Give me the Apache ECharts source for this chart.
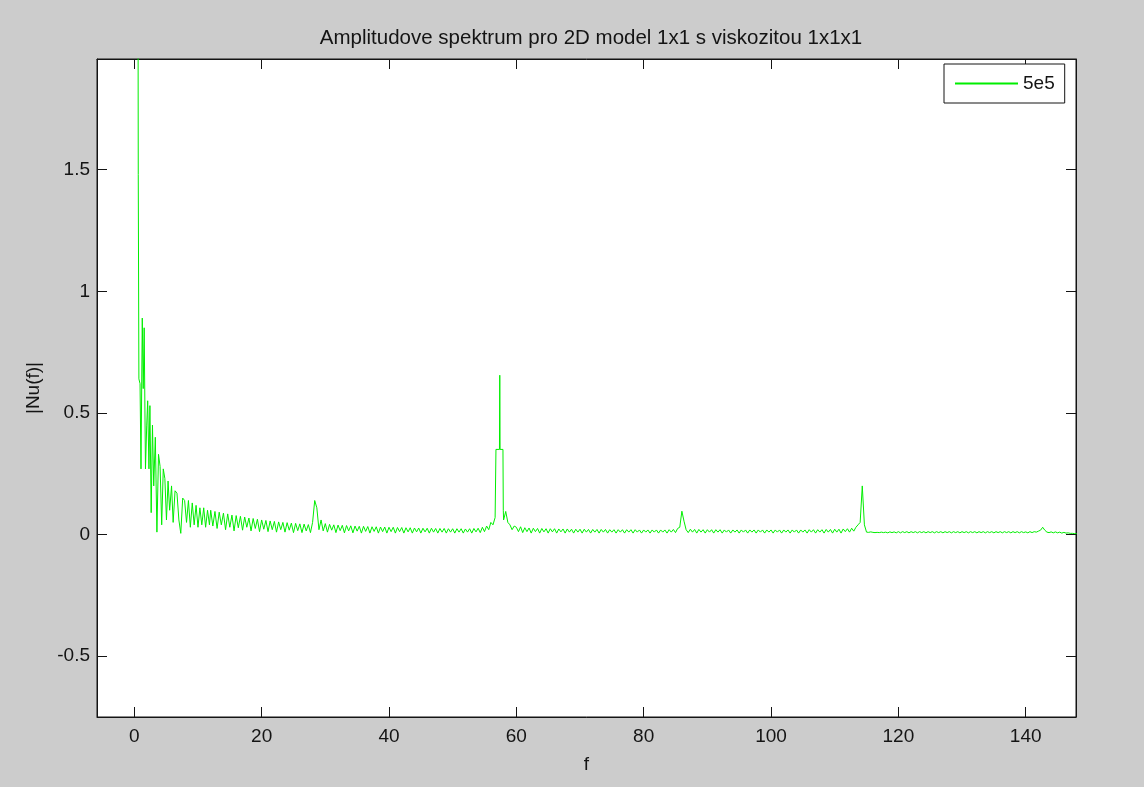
<!DOCTYPE html>
<html><head><meta charset="utf-8">
<script src="https://cdn.jsdelivr.net/npm/echarts@6/dist/echarts.min.js"></script>
<style>html,body{margin:0;padding:0;background:#cccccc;} #c{width:1144px;height:787px;}</style>
</head><body><div id="c"></div>
<script>
const titleText = 'Amplitudove spektrum pro 2D model 1x1 s viskozitou 1x1x1';
const seriesName = '5e5';
const xName = 'f';
const yName = '|Nu(f)|';
const xTicks = [0, 20, 40, 60, 80, 100, 120, 140];
const yTicks = [-0.5, 0, 0.5, 1, 1.5];

// low-frequency part (irregular sampling)
const lowBandF = [0.55,0.62,0.72,0.9,1.05,1.25,1.4,1.55,1.75,1.95,2.1,2.3,2.45,2.65,2.85,3.05,3.3,3.55,3.8,4.05,4.3,4.55,4.8,5.05,5.3,5.55,5.85,6.1,6.4,6.7,7.0,7.3,7.6,7.9,8.2,8.5,8.8,9.1,9.4,9.7,10.0,10.3,10.6,10.9,11.2,11.5,11.8];
const lowBandAmp = [3.0,1.48,0.64,0.62,0.27,0.89,0.6,0.85,0.27,0.45,0.55,0.27,0.53,0.09,0.45,0.2,0.4,0.01,0.33,0.28,0.04,0.27,0.23,0.06,0.22,0.1,0.2,0.05,0.18,0.17,0.06,0.005,0.15,0.14,0.05,0.14,0.03,0.13,0.04,0.12,0.03,0.11,0.04,0.11,0.03,0.10,0.04];

// comb from f = 12 up to 56.67, frequency bins every 1/3
const combAStartF = 12;
const combAStepF = 1 / 3;
const combAAmp = [
0.100,0.035,0.095,0.025,0.092,0.040,
0.088,0.020,0.085,0.030,0.080,0.015,
0.078,0.028,0.075,0.018,0.072,0.030,
0.068,0.015,0.066,0.025,0.063,0.012,
0.060,0.022,0.058,0.012,0.056,0.020,
0.054,0.010,0.052,0.020,0.050,0.010,
0.049,0.018,0.047,0.008,0.046,0.016,
0.044,0.008,0.043,0.015,0.041,0.008,
0.050,0.140,0.110,0.020,0.060,0.015,
0.045,0.010,0.042,0.018,0.040,0.008,
0.039,0.016,0.038,0.007,0.037,0.015,
0.036,0.007,0.035,0.014,0.034,0.006,
0.034,0.013,0.033,0.006,0.032,0.013,
0.032,0.006,0.031,0.012,0.031,0.006,
0.030,0.012,0.030,0.006,0.029,0.012,
0.029,0.006,0.028,0.011,0.028,0.006,
0.027,0.011,0.027,0.006,0.026,0.011,
0.026,0.006,0.026,0.010,0.025,0.006,
0.025,0.010,0.025,0.006,0.024,0.010,
0.024,0.006,0.024,0.010,0.024,0.006,
0.023,0.010,0.024,0.006,0.025,0.011,
0.026,0.008,0.030,0.012,0.035,0.020,
0.050,0.040,0.070
];

// main peak near f = 57.4
const peak57F = [56.75,56.8,57.35,57.4,57.45,57.9,57.95];
const peak57Amp = [0.07,0.35,0.35,0.655,0.35,0.35,0.10];

// comb from f = 58 to the end, frequency bins every 1/3
const combBStartF = 58;
const combBStepF = 1 / 3;
const combBAmp = [
0.060,0.095,0.050,0.040,0.020,0.035,
0.030,0.012,0.032,0.008,0.028,0.012,
0.027,0.006,0.026,0.012,0.025,0.006,
0.025,0.011,0.024,0.006,0.024,0.011,
0.024,0.006,0.023,0.011,0.023,0.006,
0.023,0.010,0.022,0.006,0.022,0.010,
0.022,0.006,0.022,0.010,0.021,0.006,
0.021,0.010,0.021,0.006,0.021,0.010,
0.021,0.006,0.020,0.010,0.020,0.006,
0.020,0.010,0.020,0.006,0.020,0.010,
0.020,0.006,0.020,0.010,0.019,0.006,
0.019,0.010,0.019,0.006,0.019,0.010,
0.019,0.006,0.019,0.010,0.019,0.006,
0.020,0.010,0.021,0.008,0.025,0.030,
0.096,0.055,0.020,0.008,0.022,0.010,
0.021,0.006,0.021,0.010,0.020,0.006,
0.020,0.010,0.020,0.006,0.020,0.010,
0.020,0.006,0.019,0.010,0.019,0.006,
0.019,0.010,0.019,0.006,0.019,0.010,
0.019,0.006,0.019,0.010,0.019,0.006,
0.019,0.010,0.019,0.006,0.019,0.010,
0.019,0.006,0.019,0.010,0.019,0.006,
0.019,0.010,0.019,0.006,0.019,0.010,
0.019,0.006,0.019,0.010,0.019,0.006,
0.020,0.010,0.020,0.006,0.020,0.010,
0.020,0.006,0.021,0.010,0.021,0.006,
0.022,0.010,0.022,0.006,0.023,0.012,
0.024,0.010,0.026,0.014,0.030,0.040,
0.050,0.200,0.040,0.010,0.009,0.011,
0.009,0.008,0.009,0.008,0.010,0.008,
0.010,0.007,0.011,0.008,0.011,0.007,
0.012,0.007,0.012,0.008,0.012,0.007,
0.012,0.008,0.012,0.007,0.012,0.008,
0.012,0.007,0.012,0.008,0.012,0.007,
0.012,0.008,0.012,0.007,0.012,0.008,
0.012,0.007,0.012,0.008,0.012,0.007,
0.012,0.008,0.012,0.007,0.012,0.008,
0.012,0.007,0.012,0.008,0.012,0.007,
0.012,0.008,0.012,0.007,0.012,0.008,
0.012,0.007,0.012,0.008,0.012,0.007,
0.012,0.008,0.012,0.007,0.012,0.008,
0.011,0.007,0.012,0.008,0.012,0.010,
0.014,0.018,0.030,0.018,0.010,0.008,
0.011,0.007,0.011,0.007,0.010,0.006,
0.009,0.006,0.007,0.005,0.005,0.004,
0.004
];

const xMin = -5.86, xMax = 147.9;
const yMin = -0.75, yMax = 1.955;

// assemble [f, amplitude] pairs
const spectrum = [];
lowBandF.forEach((f, i) => spectrum.push([f, lowBandAmp[i]]));
combAAmp.forEach((a, i) => spectrum.push([combAStartF + i * combAStepF, a]));
peak57F.forEach((f, i) => spectrum.push([f, peak57Amp[i]]));
combBAmp.forEach((a, i) => spectrum.push([combBStartF + i * combBStepF, a]));

const FONT = 'Liberation Sans';
const INK = '#141414';
const txt = { fontFamily: FONT, fontSize: 19, color: INK };

function xAxisDef(pos, main) {
  return {
    type: 'value', position: pos, min: xMin, max: xMax,
    name: main ? xName : '', nameLocation: 'middle', nameGap: 38,
    nameTextStyle: txt,
    axisLine: { show: true, onZero: false, lineStyle: { color: INK, width: 1 } },
    axisTick: { show: true, inside: true, length: 10, customValues: xTicks, lineStyle: { color: INK, width: 1 } },
    axisLabel: { show: main, customValues: xTicks, margin: 10, ...txt },
    splitLine: { show: false }
  };
}
function yAxisDef(pos, main) {
  return {
    type: 'value', position: pos, min: yMin, max: yMax,
    name: main ? yName : '', nameLocation: 'middle', nameGap: 54, nameRotate: 90,
    nameTextStyle: txt,
    axisLine: { show: true, onZero: false, lineStyle: { color: INK, width: 1 } },
    axisTick: { show: true, inside: true, length: 10, customValues: yTicks, lineStyle: { color: INK, width: 1 } },
    axisLabel: { show: main, customValues: yTicks, margin: 7, ...txt },
    splitLine: { show: false }
  };
}

const chart = echarts.init(document.getElementById('c'), null, { renderer: 'canvas' });
chart.setOption({
  backgroundColor: '#cccccc',
  animation: false,
  title: {
    text: titleText, left: 586, top: 23, textAlign: 'center',
    textStyle: { fontFamily: FONT, fontSize: 20.5, fontWeight: 'normal', color: INK }
  },
  legend: {
    left: 944, top: 64, orient: 'horizontal',
    backgroundColor: '#ffffff', borderColor: INK, borderWidth: 1,
    padding: [10, 10, 10, 11], itemWidth: 63, itemHeight: 2, icon: 'rect',
    textStyle: txt,
    data: [{ name: seriesName }]
  },
  grid: { left: 97, right: 68, top: 59, bottom: 70, show: true, backgroundColor: '#ffffff', borderColor: INK, borderWidth: 1, containLabel: false },
  xAxis: [xAxisDef('bottom', true), xAxisDef('top', false)],
  yAxis: [yAxisDef('left', true), yAxisDef('right', false)],
  series: [{
    type: 'line', name: seriesName, xAxisIndex: 0, yAxisIndex: 0,
    data: spectrum, showSymbol: false, symbol: 'none', clip: true, silent: true,
    lineStyle: { color: '#00ee00', width: 1 }, itemStyle: { color: '#00ee00' }
  }]
});
</script></body></html>
